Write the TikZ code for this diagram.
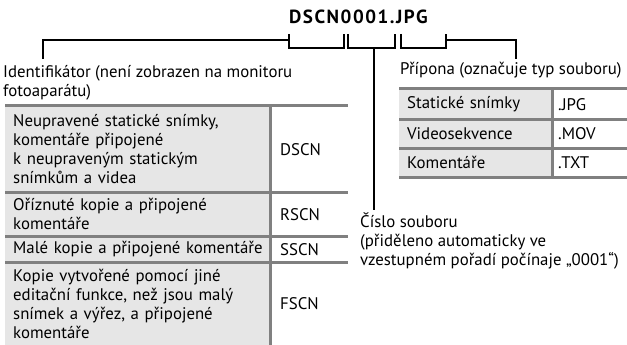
\documentclass[tikz,border=0pt]{standalone}
\usepackage{fontspec}
\setmainfont{PT Sans}
\definecolor{cellgray}{HTML}{E6E6E6}
\definecolor{rulegray}{HTML}{808080}
\begin{document}
\begin{tikzpicture}[x=1pt,y=-1pt,
  font=\fontsize{16.8}{19}\selectfont,
  lead/.style={line width=2pt,black},
  tabline/.style={line width=3pt,rulegray},
  lab/.style={anchor=base west,inner sep=0pt,align=left},
  lcell/.style={anchor=north west,fill=cellgray,inner xsep=8pt,inner ysep=0pt,text width=262pt,align=left},
  rcell/.style={anchor=north west,fill=white,inner xsep=10pt,inner ysep=0pt,text width=58pt,align=left},
  elcell/.style={anchor=north west,fill=cellgray,inner xsep=8pt,inner ysep=0pt,text width=137pt,align=left},
  ercell/.style={anchor=north west,fill=white,inner xsep=6pt,inner ysep=0pt,text width=63pt,align=left}]
\useasboundingbox (0,0) rectangle (627,345);

% title
\node[anchor=base west,inner sep=0pt,font=\fontsize{19}{19}\selectfont\bfseries\addfontfeature{LetterSpace=8}] (title) at (289,24) {DSCN0001.JPG};

% brackets
\draw[lead] (289,34) -- (289,48) -- (344,48) -- (344,34);
\draw[lead] (348,34) -- (348,48) -- (395,48) -- (395,34);
\draw[lead] (401,34) -- (401,48) -- (446,48) -- (446,34);

\coordinate (idbr) at (289,40);
\coordinate (idtip) at (43,59);
\coordinate (numbr) at (373.5,48);
\coordinate (numtip) at (373.5,210);
\coordinate (extbr) at (446,40);
\coordinate (exttip) at (516,59);

% labels (base anchor = baseline of the last line)
\node[lab] (idlab) at (3,96) {Identifikátor (není zobrazen na monitoru\\fotoaparátu)};
\node[lab] (extlab) at (400,75) {Přípona (označuje typ souboru)};
\node[lab] (numlab) at (360,265) {Číslo souboru\\(přiděleno automaticky ve\\vzestupném pořadí počínaje „0001“)};

% leaders
\draw[lead] (idbr) -| (idtip);
\draw[lead] (numbr) -- (numtip);
\draw[lead] (extbr) -| (exttip);

% left table (left cells are wider; the right cells cover their overflow)
\node[lcell,minimum height=86pt] (r1l) at (5,106) {Neupravené statické snímky,\\komentáře připojené\\k neupraveným statickým\\snímkům a videa};
\node[rcell,minimum height=86pt] (r1r) at (270,106) {DSCN};
\node[lcell,minimum height=44pt] (r2l) at (5,192) {Oříznuté kopie a připojené\\komentáře};
\node[rcell,minimum height=44pt] (r2r) at (270,192) {RSCN};
\node[lcell,minimum height=26pt] (r3l) at (5,236) {Malé kopie a připojené komentáře};
\node[rcell,minimum height=26pt] (r3r) at (270,236) {SSCN};
\node[lcell,minimum height=83pt] (r4l) at (5,262) {Kopie vytvořené pomocí jiné\\editační funkce, než jsou malý\\snímek a výřez, a připojené\\komentáře};
\node[rcell,minimum height=83pt] (r4r) at (270,262) {FSCN};

\draw[tabline] (r1l.north west) -- (r1r.north east);
\draw[tabline] (r2l.north west) -- (r2r.north east);
\draw[tabline] (r3l.north west) -- (r3r.north east);
\draw[tabline] (r4l.north west) -- (r4r.north east);
\draw[tabline] (r1r.north west) -- (r4r.south west);

% right table
\node[elcell,minimum height=30pt] (e1l) at (399,89) {Statické snímky};
\node[ercell,minimum height=30pt] (e1r) at (552,89) {.JPG};
\node[elcell,minimum height=29pt] (e2l) at (399,119) {Videosekvence};
\node[ercell,minimum height=29pt] (e2r) at (552,119) {.MOV};
\node[elcell,minimum height=29pt] (e3l) at (399,148) {Komentáře};
\node[ercell,minimum height=29pt] (e3r) at (552,148) {.TXT};

\draw[tabline] (e1l.north west) -- (e1r.north east);
\draw[tabline] (e2l.north west) -- (e2r.north east);
\draw[tabline] (e3l.north west) -- (e3r.north east);
\draw[tabline] (e3l.south west) -- (e3r.south east);
\draw[tabline] (e1r.north west) -- (e3r.south west);
\end{tikzpicture}
\end{document}
